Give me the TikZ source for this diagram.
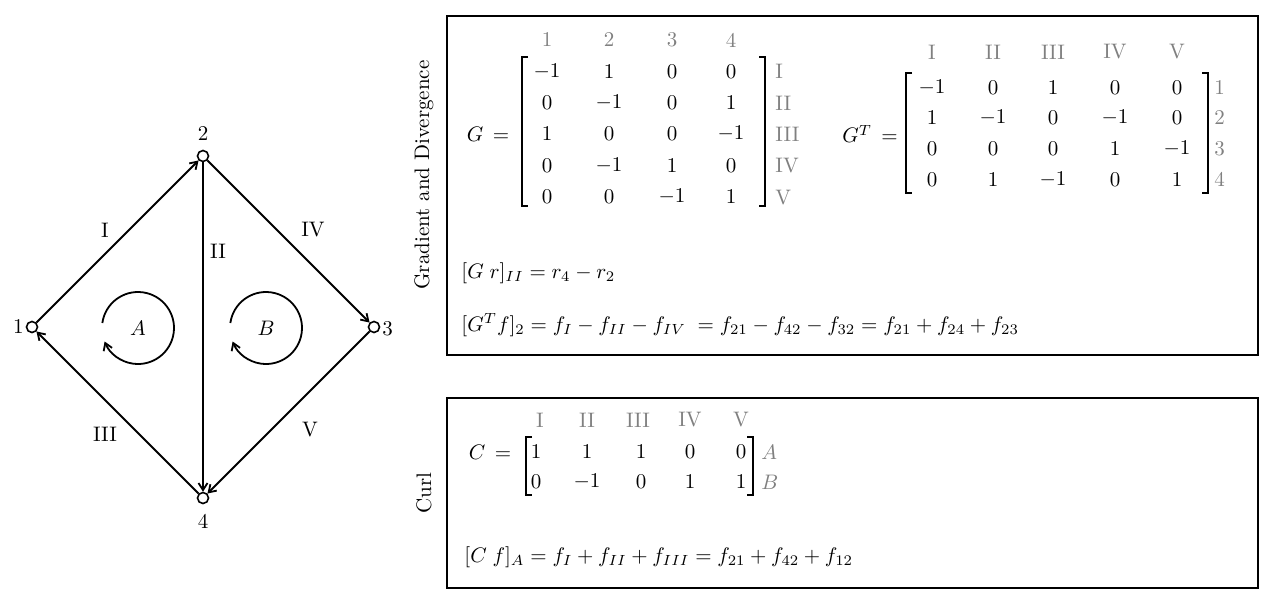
\documentclass[tikz,border=0pt]{standalone}
\usepackage{amsmath}
\usetikzlibrary{arrows.meta}
\begin{document}
\begin{tikzpicture}[x=1pt,y=-1pt,
  txt/.style={inner sep=0pt,scale=2.1},
  lbl/.style={txt,text=black!50},
  vtx/.style={circle,draw,line width=1.6pt,minimum size=11pt,inner sep=0pt,fill=white},
  edge/.style={line width=1.8pt,-{Straight Barb[length=7pt,width=9pt]}},
  brk/.style={line width=1.3pt},
  boxst/.style={draw,line width=1.3pt}]
\useasboundingbox (0,0) rectangle (1266,600);
% graph
\node[vtx] (n1) at (32,327) {};
\node[vtx] (n2) at (203,156) {};
\node[vtx] (n3) at (374,327) {};
\node[vtx] (n4) at (203,498) {};
\node[txt,anchor=east] (t1) at (24,327) {1};
\node[txt] (t2) at (203,134) {2};
\node[txt,anchor=west] (t3) at (382,329) {3};
\node[txt] (t4) at (203,521) {4};
\draw[edge] (n1) -- (n2);
\draw[edge] (n2) -- (n4);
\draw[edge] (n2) -- (n3);
\draw[edge] (n4) -- (n1);
\draw[edge] (n3) -- (n4);
\node[txt] (eI) at (105,230) {I};
\node[txt] (eII) at (218,251) {II};
\node[txt] (eIII) at (105,434) {III};
\node[txt] (eIV) at (313,230) {IV};
\node[txt] (eV) at (310,430) {V};
\draw[line width=1.8pt,-{Straight Barb[length=7pt,width=9pt]}] (138,328) ++(-172:36) arc[start angle=-172,delta angle=330,radius=36];
\draw[line width=1.8pt,-{Straight Barb[length=7pt,width=9pt]}] (266,328) ++(-172:36) arc[start angle=-172,delta angle=330,radius=36];
\node[txt] (cA) at (138,328) {$A$};
\node[txt] (cB) at (266,328) {$B$};
% boxes
\draw[boxst] (447,16) rectangle (1258,355);
\draw[boxst] (447,398) rectangle (1258,588);
\node[txt,rotate=90] (gd) at (424,175) {Gradient and Divergence};
\node[txt,rotate=90] (cu) at (424,493) {Curl};
% G
\node[txt] (Geq) at (488,134) {$G\,=$};
\foreach \x [count=\i] in {547,609,672,731} \node[lbl] (gh\i) at (\x,40) {\i};
\foreach \r [count=\j] in {I,II,III,IV,V} \node[lbl,anchor=west] (gr\j) at (775,40+\j*31.5) {\r};
\def\rowG#1#2#3#4#5{\node[txt] at (547,#1) {$#2$};\node[txt] at (609,#1) {$#3$};\node[txt] at (672,#1) {$#4$};\node[txt] at (731,#1) {$#5$};}
\rowG{72}{-1}{1}{0}{0}
\rowG{103}{0}{-1}{0}{1}
\rowG{134}{1}{0}{0}{-1}
\rowG{166}{0}{-1}{1}{0}
\rowG{197}{0}{0}{-1}{1}
\draw[brk] (528,57) -- (522,57) -- (522,206) -- (528,206);
\draw[brk] (759,57) -- (765,57) -- (765,206) -- (759,206);
% GT
\node[txt] (GTeq) at (870,134) {$G^T\,=$};
\foreach \r/\x [count=\i] in {I/932,II/993,III/1053,IV/1115,V/1177} \node[lbl] (th\i) at (\x,52) {\r};
\foreach \j in {1,2,3,4} \node[lbl,anchor=west] (tr\j) at (1214,57+\j*30.5) {\j};
\def\rowT#1#2#3#4#5#6{\node[txt] at (932,#1) {$#2$};\node[txt] at (993,#1) {$#3$};\node[txt] at (1053,#1) {$#4$};\node[txt] at (1115,#1) {$#5$};\node[txt] at (1177,#1) {$#6$};}
\rowT{88}{-1}{0}{1}{0}{0}
\rowT{118}{1}{-1}{0}{-1}{0}
\rowT{149}{0}{0}{0}{1}{-1}
\rowT{180}{0}{1}{-1}{0}{1}
\draw[brk] (912,73) -- (906,73) -- (906,193) -- (912,193);
\draw[brk] (1202,73) -- (1208,73) -- (1208,193) -- (1202,193);
\node[txt,anchor=west] (eq1) at (461,273) {$[G\;r]_{II}=r_4-r_2$};
\node[txt,anchor=west] (eq2) at (461,325) {$[G^Tf]_2=f_I-f_{II}-f_{IV}\;=f_{21}-f_{42}-f_{32}=f_{21}+f_{24}+f_{23}$};
% C
\node[txt] (Ceq) at (490,452) {$C\,=$};
\foreach \r/\x [count=\i] in {I/540,II/587,III/638,IV/690,V/741} \node[lbl] (ch\i) at (\x,420) {\r};
\node[lbl,anchor=west] (cra) at (761,452) {$A$};
\node[lbl,anchor=west] (crb) at (761,482) {$B$};
\def\rowC#1#2#3#4#5#6{\node[txt] at (536,#1) {$#2$};\node[txt] at (587,#1) {$#3$};\node[txt] at (641,#1) {$#4$};\node[txt] at (690,#1) {$#5$};\node[txt] at (741,#1) {$#6$};}
\rowC{452}{1}{1}{1}{0}{0}
\rowC{482}{0}{-1}{0}{1}{1}
\draw[brk] (532,437) -- (526,437) -- (526,495) -- (532,495);
\draw[brk] (747,437) -- (753,437) -- (753,495) -- (747,495);
\node[txt,anchor=west] (eq3) at (464,557) {$[C\;f]_A=f_I+f_{II}+f_{III}=f_{21}+f_{42}+f_{12}$};
\end{tikzpicture}
\end{document}
